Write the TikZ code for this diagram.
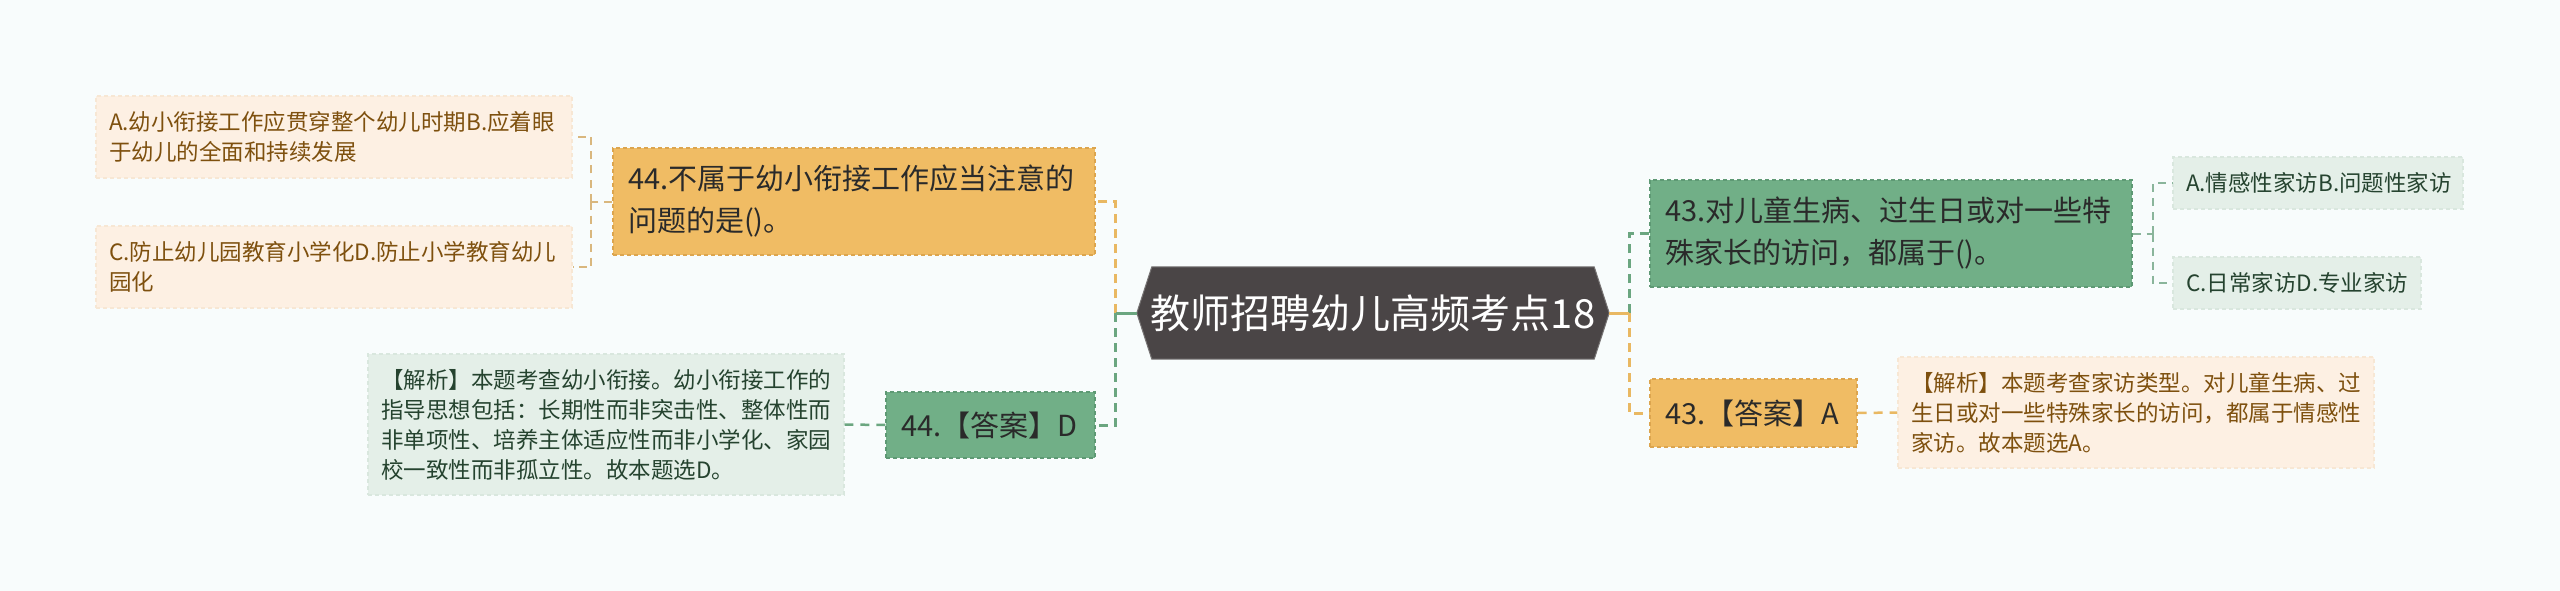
\documentclass[tikz,border=0pt]{standalone}
\usepackage{fontspec}
\newfontfamily\cjk{Noto Sans CJK SC}
\usetikzlibrary{backgrounds,calc}
\definecolor{bgc}{HTML}{F8FCFC}
\definecolor{rootc}{HTML}{4A4546}
\definecolor{orq}{HTML}{F0BC64}
\definecolor{orqb}{HTML}{DCA54E}
\definecolor{grq}{HTML}{71AF87}
\definecolor{grqb}{HTML}{5E9974}
\definecolor{orl}{HTML}{FDF0E3}
\definecolor{orlb}{HTML}{F7E7D4}
\definecolor{grl}{HTML}{E4EFE8}
\definecolor{grlb}{HTML}{D9E7DE}
\definecolor{orline}{HTML}{E9B862}
\definecolor{grline}{HTML}{6BA680}
\definecolor{orthin}{HTML}{D9B77E}
\definecolor{grthin}{HTML}{8AB59B}
\definecolor{browntxt}{HTML}{7E500E}
\definecolor{greentxt}{HTML}{25432F}
\definecolor{darktxt}{HTML}{2A2A2A}
\tikzset{
  box/.style={rectangle, inner xsep=15pt, inner ysep=0pt, align=left, line width=1.3pt, dash pattern=on 4pt off 3pt},
  qor/.style={box, fill=orq, draw=orqb, text=darktxt, font=\cjk\fontsize{29pt}{42pt}\selectfont},
  qgr/.style={box, fill=grq, draw=grqb, text=darktxt, font=\cjk\fontsize{29pt}{42pt}\selectfont},
  lor/.style={box, inner xsep=13pt, fill=orl, draw=orlb, text=browntxt, font=\cjk\fontsize{22.5pt}{30pt}\selectfont},
  lgr/.style={box, inner xsep=13pt, fill=grl, draw=grlb, text=greentxt, font=\cjk\fontsize{22.5pt}{30pt}\selectfont},
  rootnode/.style={rectangle, inner sep=0pt, text=white, font=\cjk\fontsize{40pt}{48pt}\selectfont},
  solidgr/.style={draw=grline, line width=3pt},
  solidor/.style={draw=orline, line width=3pt},
  dashgr/.style={draw=grline, line width=3pt, dash pattern=on 9pt off 6pt},
  dashor/.style={draw=orline, line width=3pt, dash pattern=on 9pt off 6pt},
  leafor/.style={draw=orthin, line width=2pt, dash pattern=on 8pt off 6pt},
  leafgr/.style={draw=grthin, line width=2pt, dash pattern=on 8pt off 6pt},
  ansgr/.style={draw=grline, line width=2.5pt, dash pattern=on 9pt off 7pt},
  ansor/.style={draw=orline, line width=2.5pt, dash pattern=on 9pt off 7pt},
}
\begin{document}
\begin{tikzpicture}[x=1pt, y=-1pt]
\useasboundingbox (0,0) rectangle (2560,591);
% root
\node[rootnode, minimum width=472pt, minimum height=92pt] (root) at (1373,313) {教师招聘幼儿高频考点18};
% left branch
\node[qor, text width=452pt, minimum height=107pt] (q44) at (854,201.5) {44.不属于幼小衔接工作应当注意的\\问题的是()。};
\node[lor, text width=450pt, minimum height=82pt] (oa44) at (334,137) {A.幼小衔接工作应贯穿整个幼儿时期B.应着眼\\于幼儿的全面和持续发展};
\node[lor, text width=450pt, minimum height=82pt] (oc44) at (334,267) {C.防止幼儿园教育小学化D.防止小学教育幼儿\\园化};
\node[qgr, text width=179pt, minimum height=66pt] (a44) at (990.5,425) {44.【答案】D};
\node[lgr, text width=450pt, minimum height=141pt] (ana44) at (606,424.5) {【解析】本题考查幼小衔接。幼小衔接工作的\\指导思想包括：长期性而非突击性、整体性而\\非单项性、培养主体适应性而非小学化、家园\\校一致性而非孤立性。故本题选D。};
% right branch
\node[qgr, text width=452pt, minimum height=107pt] (q43) at (1891,233.5) {43.对儿童生病、过生日或对一些特\\殊家长的访问，都属于()。};
\node[lgr, text width=264pt, minimum height=52pt] (oa43) at (2318,183) {A.情感性家访B.问题性家访};
\node[lgr, text width=222pt, minimum height=52pt] (oc43) at (2297,283) {C.日常家访D.专业家访};
\node[qor, text width=177pt, minimum height=68pt] (a43) at (1753.5,413) {43.【答案】A};
\node[lor, text width=450pt, minimum height=111pt] (ana43) at (2136,412.5) {【解析】本题考查家访类型。对儿童生病、过\\生日或对一些特殊家长的访问，都属于情感性\\家访。故本题选A。};
% junctions
\coordinate (jl) at ($(root.west)+(-21,0)$);
\coordinate (jr) at ($(root.east)+(20,0)$);
\coordinate (jq44) at ($(q44.west)+(-21,0)$);
\coordinate (jq43) at ($(q43.east)+(20,0)$);
% connectors
\draw[dashor] (jl) |- (q44.east);
\draw[dashgr] (jl) |- (a44.east);
\draw[solidgr] (root.west) -- (jl);
\draw[dashgr] (jr) |- (q43.west);
\draw[dashor] (jr) |- (a43.west);
\draw[solidor] (root.east) -- (jr);
\draw[leafor] (q44.west) -- (jq44);
\draw[leafor] (jq44) |- (oa44.east);
\draw[leafor] (jq44) |- (oc44.east);
\draw[ansgr] (a44.west) -- (ana44.east);
\draw[leafgr] (q43.east) -- (jq43);
\draw[leafgr] (jq43) |- (oa43.west);
\draw[leafgr] (jq43) |- (oc43.west);
\draw[ansor] (a43.east) -- (ana43.west);
\begin{scope}[on background layer]
\fill[bgc] (0,0) rectangle (2560,591);
\filldraw[fill=rootc, draw=rootc!75!white, line width=1pt]
  (root.west) -- ($(root.north west)+(15,0)$) -- ($(root.north east)+(-15,0)$) -- (root.east)
  -- ($(root.south east)+(-15,0)$) -- ($(root.south west)+(15,0)$) -- cycle;
\end{scope}
\end{tikzpicture}
\end{document}
